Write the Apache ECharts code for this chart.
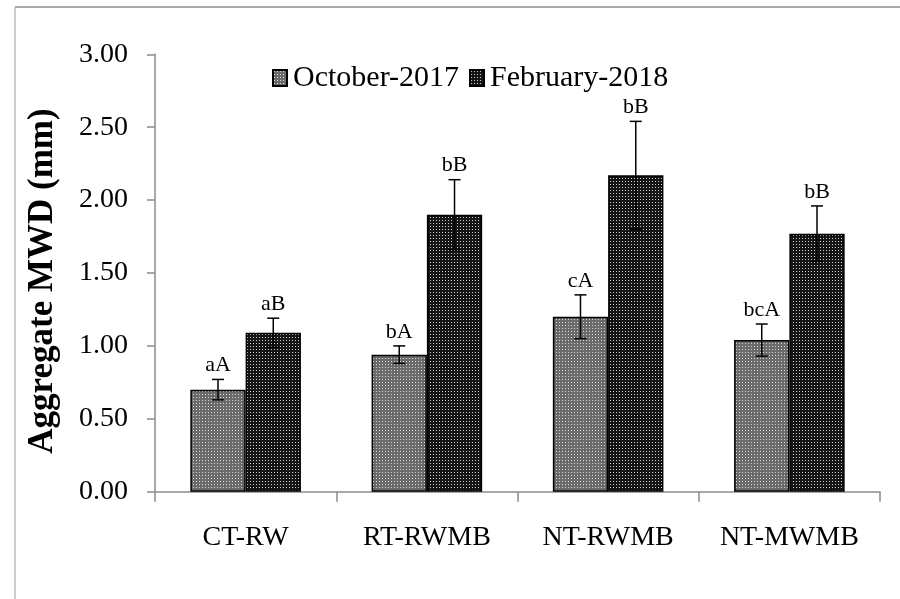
<!DOCTYPE html>
<html>
<head>
<meta charset="utf-8">
<script src="https://cdn.jsdelivr.net/npm/echarts@6/dist/echarts.min.js"></script>
<style>
html,body{margin:0;padding:0;background:#fff;}
#chart{width:900px;height:599px;}
</style>
</head>
<body>
<div id="chart"></div>
<script>
// ---- data ----
const categories = ['CT-RW', 'RT-RWMB', 'NT-RWMB', 'NT-MWMB'];
const seriesNames = ['October-2017', 'February-2018'];
const octValues = [0.70, 0.94, 1.20, 1.04];
const octErrors = [0.07, 0.06, 0.15, 0.11];
const octLetters = ['aA', 'bA', 'cA', 'bcA'];
const febValues = [1.09, 1.90, 2.17, 1.77];
const febErrors = [0.10, 0.24, 0.37, 0.19];
const febLetters = ['aB', 'bB', 'bB', 'bB'];
const yTicks = [0, 0.5, 1, 1.5, 2, 2.5, 3];

const FONT = "'Liberation Serif','Times New Roman',serif";

function makePattern(bg, dot, step, dsize) {
  const c = document.createElement('canvas');
  c.width = step * 2; c.height = step * 2;
  const ctx = c.getContext('2d');
  ctx.fillStyle = bg; ctx.fillRect(0, 0, c.width, c.height);
  ctx.fillStyle = dot;
  ctx.fillRect(1, 1, dsize, dsize);
  ctx.fillRect(1 + step, 1 + step, dsize, dsize);
  ctx.fillRect(1 + step, 1, dsize, dsize);
  ctx.fillRect(1, 1 + step, dsize, dsize);
  return c;
}
const octPattern = makePattern('#6a6a6a', '#d8d8d8', 3, 1);
const febPattern = makePattern('#141414', '#d0d0d0', 3, 1);

const BAR_GAP_RATIO = 0.39;

function errorSeries(name, values, errors, letters, side) {
  return {
    type: 'custom',
    name: name + '-err',
    z: 10,
    silent: true,
    data: values.map((v, i) => [i, v, errors[i], letters[i]]),
    encode: { x: 0, y: 1 },
    renderItem: function (params, api) {
      const idx = api.value(0);
      const v = api.value(1);
      const e = api.value(2);
      const band = api.size([1, 0])[0];
      const barW = band * (1 - BAR_GAP_RATIO) / 2;
      const center = api.coord([idx, v]);
      const x = center[0] + side * barW / 2;
      const top = api.coord([idx, v + e])[1];
      const bot = api.coord([idx, v - e])[1];
      const cap = 6;
      const st = { stroke: '#000', lineWidth: 1.5 };
      return {
        type: 'group',
        children: [
          { type: 'line', shape: { x1: x, y1: top, x2: x, y2: bot }, style: st },
          { type: 'line', shape: { x1: x - cap, y1: top, x2: x + cap, y2: top }, style: st },
          { type: 'line', shape: { x1: x - cap, y1: bot, x2: x + cap, y2: bot }, style: st },
          { type: 'text', style: { text: letters[idx], x: x, y: top - 3, align: 'center', verticalAlign: 'bottom', font: '22px ' + FONT, fill: '#000' } }
        ]
      };
    }
  };
}

const chart = echarts.init(document.getElementById('chart'), null, { renderer: 'canvas' });
chart.setOption({
  animation: false,
  backgroundColor: '#fff',
  textStyle: { fontFamily: FONT },
  graphic: [
    { type: 'line', shape: { x1: 15, y1: 7, x2: 900, y2: 7 }, style: { stroke: '#a8a8a8', lineWidth: 2 } },
    { type: 'line', shape: { x1: 15, y1: 7, x2: 15, y2: 599 }, style: { stroke: '#bdbdbd', lineWidth: 1.5 } }
  ],
  legend: {
    data: seriesNames,
    left: 267, top: 58,
    itemWidth: 14, itemHeight: 16, itemGap: 10,
    textStyle: { fontFamily: FONT, fontSize: 30, color: '#000', padding: [0, 0, 0, 1] },
    icon: 'rect'
  },
  grid: { left: 155, right: 20, top: 54.3, bottom: 107.3, containLabel: false },
  xAxis: {
    type: 'category',
    data: categories,
    axisLine: { lineStyle: { color: '#8c8c8c', width: 1.5 } },
    axisTick: { show: true, length: 10, lineStyle: { color: '#8c8c8c', width: 1.5 } },
    axisLabel: { fontFamily: FONT, fontSize: 28, color: '#000', margin: 32 }
  },
  yAxis: {
    type: 'value',
    min: yTicks[0], max: yTicks[yTicks.length - 1], interval: 0.5,
    name: 'Aggregate MWD (mm)',
    nameLocation: 'middle',
    nameGap: 95,
    nameTextStyle: { fontFamily: FONT, fontSize: 35, fontWeight: 'bold', color: '#000', padding: [0, 16, 0, 0] },
    axisLine: { show: true, lineStyle: { color: '#8c8c8c', width: 1.5 } },
    axisTick: { show: true, length: 8, lineStyle: { color: '#8c8c8c', width: 1.5 } },
    splitLine: { show: false },
    axisLabel: { fontFamily: FONT, fontSize: 28, color: '#000', margin: 27, formatter: v => v.toFixed(2) }
  },
  series: [
    {
      name: seriesNames[0], type: 'bar', data: octValues,
      barGap: '0%', barCategoryGap: (BAR_GAP_RATIO * 100) + '%',
      itemStyle: { color: { image: octPattern, repeat: 'repeat' }, borderColor: '#000', borderWidth: 1.5 }
    },
    {
      name: seriesNames[1], type: 'bar', data: febValues,
      barGap: '0%', barCategoryGap: (BAR_GAP_RATIO * 100) + '%',
      itemStyle: { color: { image: febPattern, repeat: 'repeat' }, borderColor: '#000', borderWidth: 1.5 }
    },
    errorSeries(seriesNames[0], octValues, octErrors, octLetters, -1),
    errorSeries(seriesNames[1], febValues, febErrors, febLetters, 1)
  ]
});
</script>
</body>
</html>
